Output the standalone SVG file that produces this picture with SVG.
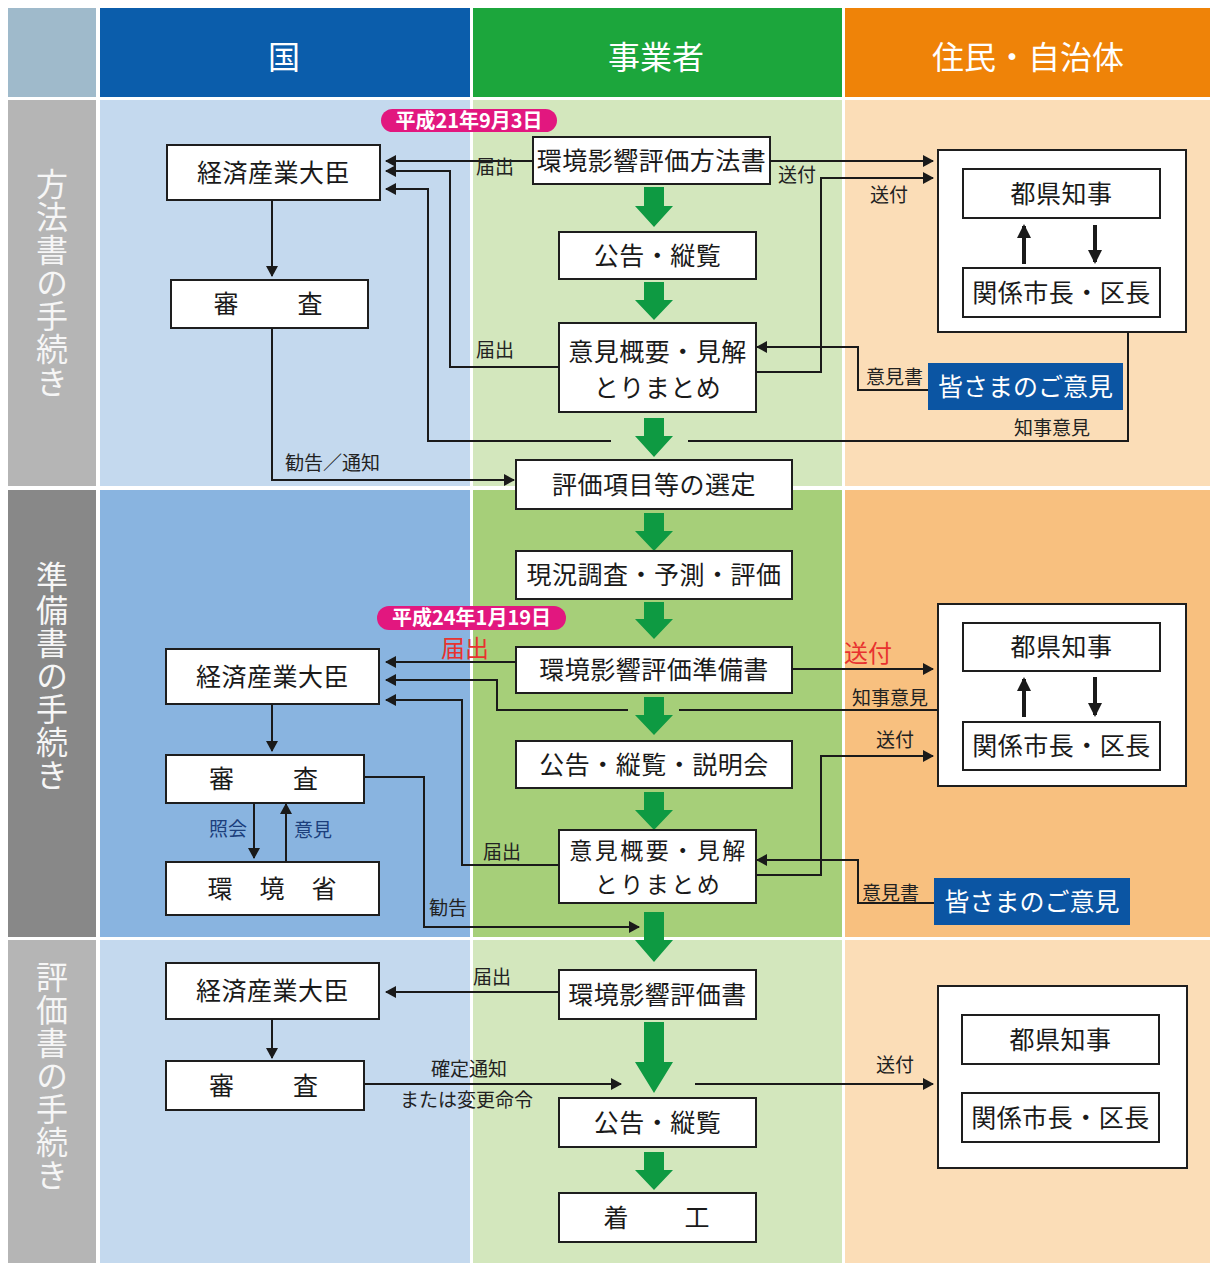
<svg xmlns="http://www.w3.org/2000/svg" width="1210" height="1263" viewBox="0 0 1210 1263">
<defs>
<marker id="ah" markerUnits="userSpaceOnUse" markerWidth="11" markerHeight="12" refX="10" refY="6" orient="auto"><path d="M0,0 L11,6 L0,12 z" fill="#1a1a1a"/></marker>
<marker id="ah2" markerUnits="userSpaceOnUse" markerWidth="14" markerHeight="14" refX="12" refY="7" orient="auto"><path d="M0,0 L14,7 L0,14 z" fill="#1a1a1a"/></marker>
</defs>
<style>
text{font-family:"Noto Sans CJK JP","Noto Sans",sans-serif}
.box{fill:#fff;stroke:#1e1e1e;stroke-width:2}
.bt{font-size:25px;fill:#1a1a1a;text-anchor:middle;letter-spacing:0.5px}
.bs{font-size:23px;fill:#1a1a1a;text-anchor:middle;letter-spacing:2.5px}
.lb{font-size:19px;fill:#222}
.hd{font-size:32px;fill:#fff;text-anchor:middle}
.vl{font-size:32px;fill:#f6f6f6;writing-mode:vertical-rl;letter-spacing:1px}
.ln{fill:none;stroke:#1a1a1a;stroke-width:2}
.thk{fill:none;stroke:#1a1a1a;stroke-width:4}
.ga{fill:#0e9a42}
.pill{fill:#e2177f}
.pt{font-size:20px;fill:#fff;text-anchor:middle;font-weight:bold}
.red{font-size:24px;fill:#e8322f}
.blu{fill:#0b55a3}
.wt{font-size:25px;fill:#fff;text-anchor:middle}
.nb{fill:#1c3f7c}
</style>
<rect width="1210" height="1263" fill="#fff"/>
<g id="background">
<rect x="8" y="8" width="88" height="89" fill="#9fbacb"/>
<rect x="100" y="8" width="370" height="89" fill="#0b5dab"/>
<rect x="473" y="8" width="369" height="89" fill="#1ca63c"/>
<rect x="845" y="8" width="365" height="89" fill="#ef8308"/>
<rect x="8" y="100" width="88" height="386" fill="#b5b5b5"/>
<rect x="100" y="100" width="370" height="386" fill="#c4d9ee"/>
<rect x="473" y="100" width="369" height="386" fill="#d3e7bd"/>
<rect x="845" y="100" width="365" height="386" fill="#fbddb7"/>
<rect x="8" y="490" width="88" height="447" fill="#888888"/>
<rect x="100" y="490" width="370" height="447" fill="#89b4e0"/>
<rect x="473" y="490" width="369" height="447" fill="#a6cf79"/>
<rect x="845" y="490" width="365" height="447" fill="#f8c07f"/>
<rect x="8" y="940" width="88" height="323" fill="#b5b5b5"/>
<rect x="100" y="940" width="370" height="323" fill="#c4d9ee"/>
<rect x="473" y="940" width="369" height="323" fill="#d3e7bd"/>
<rect x="845" y="940" width="365" height="323" fill="#fbddb7"/>
<text class="hd" x="284" y="69">国</text>
<text class="hd" x="656" y="69">事業者</text>
<text class="hd" x="1028" y="69">住民・自治体</text>
<text class="vl" x="52" y="168">方法書の手続き</text>
<text class="vl" x="52" y="561">準備書の手続き</text>
<text class="vl" x="52" y="961">評価書の手続き</text>
</g>
<g id="green-arrows">
<path class="ga" d="M644,187 h20 v19 h9 l-19,21 l-19,-21 h9 z"/>
<path class="ga" d="M644,282 h20 v18 h9 l-19,20 l-19,-20 h9 z"/>
<path class="ga" d="M644,418 h20 v18 h9 l-19,21 l-19,-21 h9 z"/>
<path class="ga" d="M644,513 h20 v18 h9 l-19,20 l-19,-20 h9 z"/>
<path class="ga" d="M644,602 h20 v17 h9 l-19,20 l-19,-20 h9 z"/>
<path class="ga" d="M644,697 h20 v18 h9 l-19,20 l-19,-20 h9 z"/>
<path class="ga" d="M644,792 h20 v18 h9 l-19,20 l-19,-20 h9 z"/>
<path class="ga" d="M644,912 h20 v28 h9 l-19,22 l-19,-22 h9 z"/>
<path class="ga" d="M644,1022 h20 v40 h9 l-19,31 l-19,-31 h9 z"/>
<path class="ga" d="M644,1152 h20 v18 h9 l-19,20 l-19,-20 h9 z"/>
</g>
<g id="pill1"><rect class="pill" x="381" y="109" width="176" height="23" rx="11.5"/><text class="pt" x="469" y="128">平成21年9月3日</text></g>
<g id="pill2"><rect class="pill" x="377" y="606" width="189" height="24" rx="12"/><text class="pt" x="471.5" y="625">平成24年1月19日</text></g>
<g id="n-meti1"><rect class="box" x="167" y="145" width="213" height="55"/><text class="bt" x="273.5" y="181.5">経済産業大臣</text></g>
<g id="n-review1"><rect class="box" x="171" y="280" width="197" height="48"/><text class="bt" x="269.5" y="313" style="letter-spacing:3px">審　　査</text></g>
<g id="n-hohosho"><rect class="box" x="533" y="137" width="237" height="47"/><text class="bt" x="651.5" y="169.5">環境影響評価方法書</text></g>
<g id="n-koukoku1"><rect class="box" x="559" y="232" width="197" height="47"/><text class="bt" x="657.5" y="264.5">公告・縦覧</text></g>
<g id="n-iken1"><rect class="box" x="559" y="323" width="197" height="89"/><text class="bt"><tspan x="657.5" y="361">意見概要・見解</tspan><tspan x="657.5" y="397">とりまとめ</tspan></text></g>
<g id="n-sentei"><rect class="box" x="516" y="460" width="276" height="49"/><text class="bt" x="654" y="494">評価項目等の選定</text></g>
<g id="n-jumin1"><rect class="box" x="938" y="150" width="248" height="182"/></g>
<g id="n-chiji1"><rect class="box" x="963" y="169" width="197" height="49"/><text class="bt" x="1061.5" y="202.5">都県知事</text></g>
<g id="n-shicho1"><rect class="box" x="963" y="268" width="197" height="49"/><text class="bt" x="1061.5" y="301.5">関係市長・区長</text></g>
<g id="n-minasama1"><rect class="blu" x="928" y="363" width="195" height="47"/><text class="wt" x="1025.5" y="396">皆さまのご意見</text></g>
<g id="n-genkyo"><rect class="box" x="516" y="551" width="276" height="48"/><text class="bt" x="654" y="584">現況調査・予測・評価</text></g>
<g id="n-junbisho"><rect class="box" x="516" y="647" width="276" height="46"/><text class="bt" x="654" y="679">環境影響評価準備書</text></g>
<g id="n-koukoku2"><rect class="box" x="516" y="741" width="276" height="47"/><text class="bt" x="654" y="773.5">公告・縦覧・説明会</text></g>
<g id="n-iken2"><rect class="box" x="559" y="830" width="197" height="73"/><text class="bs"><tspan x="658.5" y="859">意見概要・見解</tspan><tspan x="658.5" y="893">とりまとめ</tspan></text></g>
<g id="n-meti2"><rect class="box" x="166" y="649" width="213" height="55"/><text class="bt" x="272.5" y="685.5">経済産業大臣</text></g>
<g id="n-review2"><rect class="box" x="166" y="755" width="198" height="48"/><text class="bt" x="265" y="788" style="letter-spacing:3px">審　　査</text></g>
<g id="n-env"><rect class="box" x="166" y="862" width="213" height="53"/><text class="bt" x="272.5" y="897.5" style="letter-spacing:1px">環　境　省</text></g>
<g id="n-jumin2"><rect class="box" x="938" y="604" width="248" height="182"/></g>
<g id="n-chiji2"><rect class="box" x="963" y="623" width="197" height="48"/><text class="bt" x="1061.5" y="656">都県知事</text></g>
<g id="n-shicho2"><rect class="box" x="963" y="722" width="197" height="48"/><text class="bt" x="1061.5" y="755">関係市長・区長</text></g>
<g id="n-minasama2"><rect class="blu" x="934" y="878" width="196" height="47"/><text class="wt" x="1032" y="911">皆さまのご意見</text></g>
<g id="n-meti3"><rect class="box" x="166" y="963" width="213" height="56"/><text class="bt" x="272.5" y="1000">経済産業大臣</text></g>
<g id="n-review3"><rect class="box" x="166" y="1061" width="198" height="49"/><text class="bt" x="265" y="1094.5" style="letter-spacing:3px">審　　査</text></g>
<g id="n-hyokasho"><rect class="box" x="559" y="970" width="197" height="49"/><text class="bt" x="657.5" y="1003.5">環境影響評価書</text></g>
<g id="n-koukoku3"><rect class="box" x="559" y="1098" width="197" height="49"/><text class="bt" x="657.5" y="1131.5">公告・縦覧</text></g>
<g id="n-chakko"><rect class="box" x="559" y="1193" width="197" height="49"/><text class="bt" x="657.5" y="1226.5" style="letter-spacing:2px">着　　工</text></g>
<g id="n-jumin3"><rect class="box" x="938" y="986" width="249" height="182"/></g>
<g id="n-chiji3"><rect class="box" x="962" y="1015" width="197" height="49"/><text class="bt" x="1060.5" y="1048.5">都県知事</text></g>
<g id="n-shicho3"><rect class="box" x="962" y="1093" width="197" height="49"/><text class="bt" x="1060.5" y="1126.5">関係市長・区長</text></g>
<g id="connectors">
<path class="ln" d="M533,161 H386" marker-end="url(#ah)"/>
<path class="ln" d="M559,367 H450 V171 H386" marker-end="url(#ah)"/>
<path class="ln" d="M611,441 H428 V189 H386" marker-end="url(#ah)"/>
<path class="ln" d="M1128,332 V441 H688"/>
<path class="ln" d="M272,200 V276" marker-end="url(#ah)"/>
<path class="ln" d="M272,328 V480 H514" marker-end="url(#ah)"/>
<path class="ln" d="M770,161 H933" marker-end="url(#ah)"/>
<path class="ln" d="M756,372 H821 V178 H933" marker-end="url(#ah)"/>
<path class="ln" d="M928,390 H858 V347 H757" marker-end="url(#ah)"/>
<path class="thk" d="M1024,264 V226" marker-end="url(#ah2)"/>
<path class="thk" d="M1095,225 V262" marker-end="url(#ah2)"/>
<path class="ln" d="M516,662 H386" marker-end="url(#ah)"/>
<path class="ln" d="M938,710 H679"/>
<path class="ln" d="M628,710 H497 V680 H386" marker-end="url(#ah)"/>
<path class="ln" d="M559,865 H462 V700 H386" marker-end="url(#ah)"/>
<path class="ln" d="M272,704 V751" marker-end="url(#ah)"/>
<path class="ln" d="M364,777 H424 V927 H639" marker-end="url(#ah)"/>
<path class="ln" d="M254,803 V858" marker-end="url(#ah)"/>
<path class="ln" d="M286,862 V804" marker-end="url(#ah)"/>
<path class="ln" d="M792,669 H933" marker-end="url(#ah)"/>
<path class="ln" d="M756,875 H821 V756 H933" marker-end="url(#ah)"/>
<path class="ln" d="M934,903 H858 V860 H757" marker-end="url(#ah)"/>
<path class="thk" d="M1024,717 V679" marker-end="url(#ah2)"/>
<path class="thk" d="M1095,677 V715" marker-end="url(#ah2)"/>
<path class="ln" d="M559,992 H386" marker-end="url(#ah)"/>
<path class="ln" d="M272,1019 V1058" marker-end="url(#ah)"/>
<path class="ln" d="M364,1084 H621" marker-end="url(#ah)"/>
<path class="ln" d="M695,1084 H933" marker-end="url(#ah)"/>
<text class="lb" x="476" y="174">届出</text>
<text class="lb" x="476" y="357">届出</text>
<text class="lb" x="778" y="182">送付</text>
<text class="lb" x="870" y="202">送付</text>
<text class="lb" x="866" y="384">意見書</text>
<text class="lb" x="1014" y="435">知事意見</text>
<text class="lb" x="285" y="470">勧告／通知</text>
<text class="red" x="441" y="657">届出</text>
<text class="red" x="844" y="662">送付</text>
<text class="lb" x="852" y="705">知事意見</text>
<text class="lb" x="876" y="747">送付</text>
<text class="lb" x="862" y="900">意見書</text>
<text class="lb" x="483" y="859">届出</text>
<text class="lb nb" x="209" y="836">照会</text>
<text class="lb nb" x="294" y="837">意見</text>
<text class="lb" x="429" y="915">勧告</text>
<text class="lb" x="473" y="984">届出</text>
<text class="lb" x="431" y="1076">確定通知</text>
<text class="lb" x="400" y="1107">または変更命令</text>
<text class="lb" x="876" y="1072">送付</text>
</g>
</svg>
